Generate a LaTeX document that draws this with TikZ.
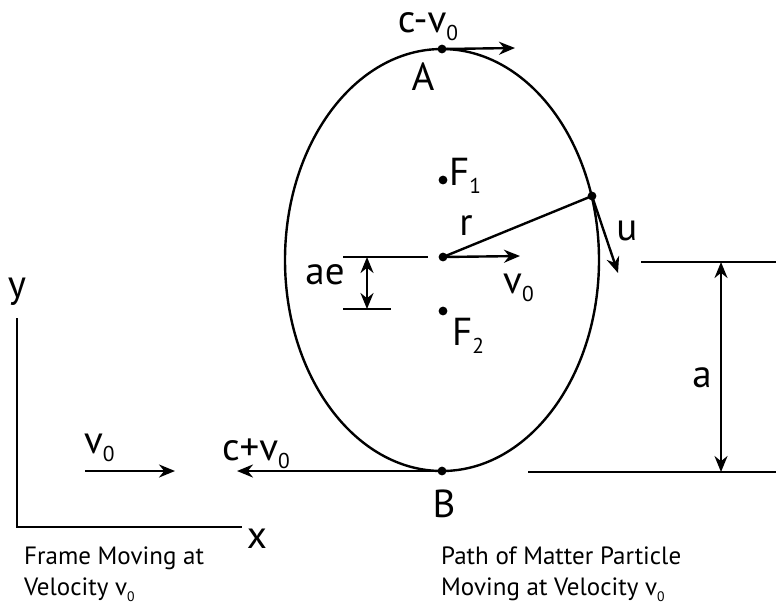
\documentclass[tikz,border=0pt]{standalone}
\usepackage{fontspec}
\setmainfont{PT Sans}
\usetikzlibrary{arrows.meta}
\newcommand{\lowsub}[1]{\raisebox{-0.22em}{\scalebox{0.55}{#1}}}
\begin{document}
\begin{tikzpicture}[>={Stealth[length=8pt,width=6.5pt]}, x=0.5pt, y=-0.5pt, line width=1.2pt,
    lbl/.style={font=\fontsize{19.5}{22}\selectfont, inner sep=0pt, anchor=base},
    capt/.style={font=\fontsize{12.5}{15.5}\selectfont, align=left, inner sep=0pt, anchor=north west}]
  \useasboundingbox (0,0) rectangle (776,607);
  % Trayectoria de la particula
  \draw (442,260) ellipse [x radius=157, y radius=211];
  % Puntos
  \coordinate (A) at (442,49);
  \coordinate (B) at (442,471);
  \coordinate (O) at (443,257);
  \coordinate (F1) at (443,180);
  \coordinate (F2) at (443,311);
  \coordinate (P) at (592,196);
  \foreach \p in {A,B,O,F1,F2,P}
    \fill (\p) circle (2.2pt);
  % Velocidades
  \coordinate (Aend) at (515,48);
  \coordinate (Bend) at (237,471);
  \coordinate (Oend) at (520,256);
  \coordinate (Pend) at (618,273);
  \draw[->] (A) -- (Aend);
  \draw[->] (B) -- (Bend);
  \draw[->] (O) -- (Oend);
  \draw[->] (P) -- (Pend);
  \draw (O) -- (P);
  % Cota ae
  \coordinate (aeTopL) at (343,257);
  \coordinate (aeTopR) at (428,257);
  \coordinate (aeBotL) at (343,309);
  \coordinate (aeBotR) at (391,309);
  \coordinate (aeUp) at (367,257);
  \coordinate (aeDown) at (367,309);
  \draw (aeTopL) -- (aeTopR);
  \draw (aeBotL) -- (aeBotR);
  \draw[<->] (aeUp) -- (aeDown);
  % Cota a
  \coordinate (aTopL) at (641,262);
  \coordinate (aTopR) at (776,262);
  \coordinate (aBotL) at (528,472);
  \coordinate (aBotR) at (776,472);
  \coordinate (aUp) at (721,262);
  \coordinate (aDown) at (721,472);
  \draw (aTopL) -- (aTopR);
  \draw (aBotL) -- (aBotR);
  \draw[<->] (aUp) -- (aDown);
  % Ejes del marco
  \coordinate (yTop) at (17,318);
  \coordinate (orig) at (17,527);
  \coordinate (xEnd) at (242,527);
  \draw (yTop) -- (orig) -- (xEnd);
  \coordinate (vStart) at (85,471);
  \coordinate (vEnd) at (175,471);
  \draw[->] (vStart) -- (vEnd);
  % Etiquetas
  \node[lbl] (cminus) at (428,32) {c-v\lowsub{0}};
  \node[lbl] (Alabel) at (423,90) {A};
  \node[lbl, anchor=base west] (F1label) at (448,185) {F\lowsub{1}};
  \node[lbl] (rlabel) at (466,235) {r};
  \node[lbl] (ulabel) at (627,240) {u};
  \node[lbl, anchor=base west] (vzero) at (502,293) {v\lowsub{0}};
  \node[lbl] (aelabel) at (325,284) {ae};
  \node[lbl, anchor=base west] (F2label) at (451,345) {F\lowsub{2}};
  \node[lbl] (Blabel) at (444,517) {B};
  \node[lbl] (cplus) at (256,460) {c+v\lowsub{0}};
  \node[lbl, anchor=base west] (vframe) at (83,453) {v\lowsub{0}};
  \node[lbl] (ylabel) at (17,297) {y};
  \node[lbl] (xlabel) at (257,548) {x};
  \node[lbl] (alabel) at (702,387) {a};
  \node[capt] (frameText) at (23,546) {Frame Moving at\\Velocity v\lowsub{0}};
  \node[capt] (pathText) at (440,546) {Path of Matter Particle\\Moving at Velocity v\lowsub{0}};
\end{tikzpicture}
\end{document}
